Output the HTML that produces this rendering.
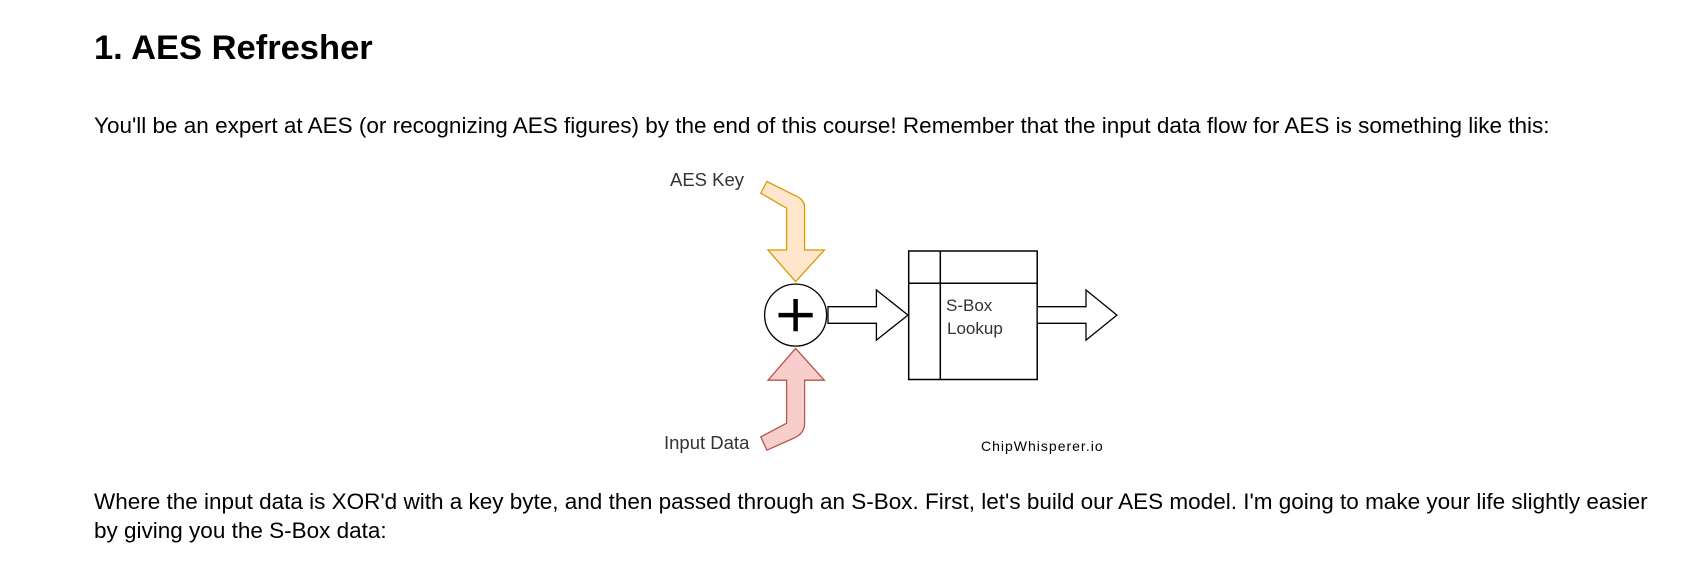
<!DOCTYPE html>
<html><head><meta charset="utf-8"><style>
html,body{margin:0;padding:0;background:#fff;width:1690px;height:564px;overflow:hidden;font-family:"Liberation Sans",Arial,sans-serif;color:#000}
.t{position:absolute;white-space:nowrap;left:94px}
</style></head><body>
<div class="t" style="top:28px;font-size:34.5px;font-weight:bold;line-height:40px">1. AES Refresher</div>
<div class="t" style="top:113px;font-size:22.5px;line-height:26px">You'll be an expert at AES (or recognizing AES figures) by the end of this course! Remember that the input data flow for AES is something like this:</div>
<div class="t" style="top:487px;font-size:22.5px;line-height:29px">Where the input data is XOR'd with a key byte, and then passed through an S-Box. First, let's build our AES model. I'm going to make your life slightly easier<br>by giving you the S-Box data:</div>
<svg style="position:absolute;left:0;top:0" width="1690" height="564" xmlns="http://www.w3.org/2000/svg">
<path d="M760.8,193.2 L766.9,181.5 L793.8,194.9 Q804.6,199.1 804.6,207.5 L804.6,250 L824.3,250 L795.6,281.7 L768,250 L786.6,250 L786.6,208.2 Z" fill="#ffe6cc" stroke="#d79b00" stroke-width="1.3"/>
<path d="M760.8,436.9 L766.9,450.2 L793.8,438.1 Q804.6,433.5 804.6,423.2 L804.6,380.2 L824.3,380.2 L795.6,348.4 L768,380.2 L786.6,380.2 L786.6,423.2 Z" fill="#f8cecc" stroke="#b85450" stroke-width="1.3"/>
<circle cx="795.6" cy="315.1" r="31" fill="#fff" stroke="#000" stroke-width="1.3"/>
<path d="M778.5,315.1 H812.7 M795.6,299 V331.2" stroke="#000" stroke-width="4.5"/>
<path d="M828,306.7 H876.4 V290 L908,315.1 L876.4,340.1 V323.3 H828 Z" fill="#fff" stroke="#000" stroke-width="1.3"/>
<rect x="908.7" y="251" width="128.5" height="128.5" fill="#fff" stroke="#000" stroke-width="1.5"/>
<path d="M940.3,251 V379.5 M908.7,283.3 H1037.2" stroke="#000" stroke-width="1.5"/>
<path d="M1037.2,306.7 H1086 V290 L1116.9,315.1 L1086,340.1 V323.3 H1037.2 Z" fill="#fff" stroke="#000" stroke-width="1.3"/>
<g font-family="Liberation Sans, Arial, sans-serif" fill="#333">
<text x="670" y="186" font-size="18.5">AES Key</text>
<text x="664" y="449" font-size="18.5">Input Data</text>
<text x="946" y="311" font-size="17">S-Box</text>
<text x="947" y="334" font-size="17">Lookup</text>
<text x="981" y="451" font-size="14" letter-spacing="1" fill="#000">ChipWhisperer.io</text>
</g>
</svg>
</body></html>
